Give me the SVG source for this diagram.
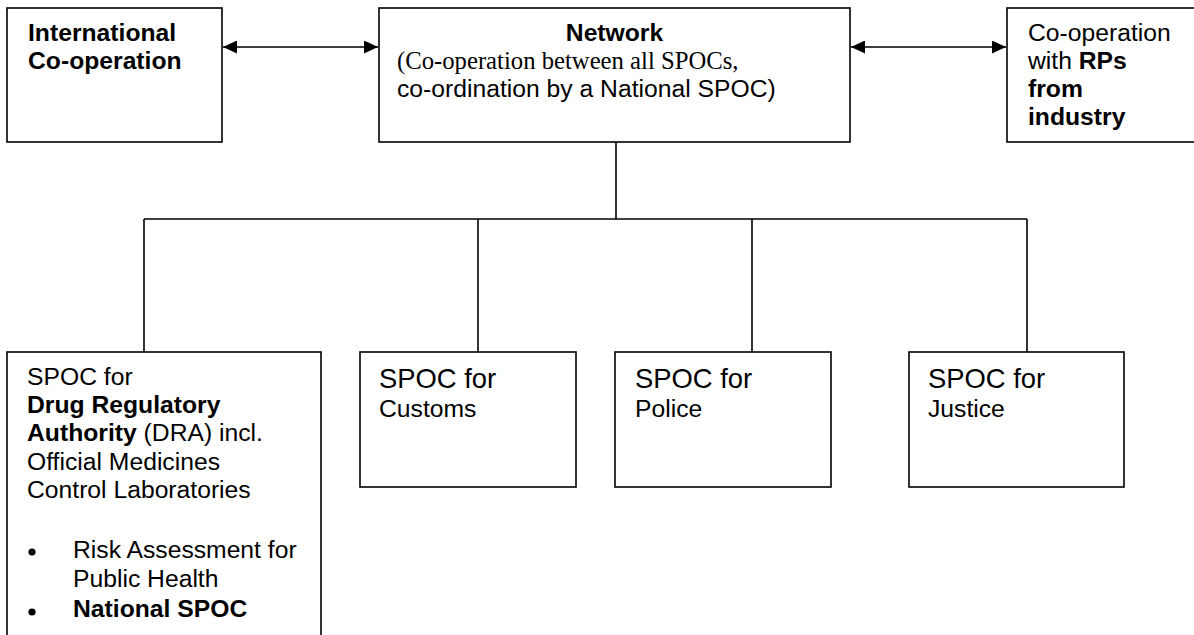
<svg xmlns="http://www.w3.org/2000/svg" width="1194" height="635" viewBox="0 0 1194 635">
<style>
  .box{fill:#fff;stroke:#000;stroke-width:1.6}
  .ln{fill:none;stroke:#000;stroke-width:1.6}
  text{font-family:"Liberation Sans",Arial,sans-serif;font-size:24.7px;fill:#000}
  .b{font-weight:bold}
  .big{font-size:27.4px}
  .serif{font-family:"Liberation Serif","Times New Roman",serif}
</style>
<defs>
  <marker id="ah" markerUnits="userSpaceOnUse" markerWidth="15" markerHeight="13" refX="14" refY="6.5" orient="auto-start-reverse">
    <path d="M0,0 L14,6.5 L0,13 z" fill="#000"/>
  </marker>
</defs>
<g id="connectors">
  <line class="ln" x1="223" y1="47" x2="378" y2="47" marker-start="url(#ah)" marker-end="url(#ah)"/>
  <line class="ln" x1="851" y1="47" x2="1006" y2="47" marker-start="url(#ah)" marker-end="url(#ah)"/>
  <line class="ln" x1="616" y1="142" x2="616" y2="219"/>
  <line class="ln" x1="144" y1="219" x2="1027" y2="219"/>
  <line class="ln" x1="144" y1="219" x2="144" y2="352"/>
  <line class="ln" x1="478" y1="219" x2="478" y2="352"/>
  <line class="ln" x1="752" y1="219" x2="752" y2="352"/>
  <line class="ln" x1="1027" y1="219" x2="1027" y2="352"/>
</g>
<g id="international">
  <rect class="box" x="7" y="8" width="215" height="134"/>
  <text x="28" y="41" class="b">International</text>
  <text x="28" y="69" class="b">Co-operation</text>
</g>
<g id="network">
  <rect class="box" x="379" y="8" width="471" height="134"/>
  <text x="614.5" y="41" class="b" text-anchor="middle">Network</text>
  <text x="397" y="69" class="serif">(Co-operation between all SPOCs,</text>
  <text x="397" y="97">co-ordination by a National SPOC)</text>
</g>
<g id="industry">
  <rect class="box" x="1007" y="8" width="200" height="134"/>
  <text x="1028" y="41">Co-operation</text>
  <text x="1028" y="69">with <tspan class="b">RPs</tspan></text>
  <text x="1028" y="97" class="b">from</text>
  <text x="1028" y="125" class="b">industry</text>
</g>
<g id="dra">
  <rect class="box" x="7" y="352" width="314" height="300"/>
  <text x="27" y="385">SPOC for</text>
  <text x="27" y="413" class="b">Drug Regulatory</text>
  <text x="27" y="441"><tspan class="b">Authority</tspan> (DRA) incl.</text>
  <text x="27" y="470">Official Medicines</text>
  <text x="27" y="498">Control Laboratories</text>
  <circle cx="32" cy="552" r="3.6" fill="#000"/>
  <text x="73" y="558">Risk Assessment for</text>
  <text x="73" y="587">Public Health</text>
  <circle cx="32" cy="612" r="3.6" fill="#000"/>
  <text x="73" y="617" class="b">National SPOC</text>
</g>
<g id="customs">
  <rect class="box" x="360" y="352" width="216" height="135"/>
  <text x="379" y="388" class="big">SPOC for</text>
  <text x="379" y="417">Customs</text>
</g>
<g id="police">
  <rect class="box" x="615" y="352" width="216" height="135"/>
  <text x="635" y="388" class="big">SPOC for</text>
  <text x="635" y="417">Police</text>
</g>
<g id="justice">
  <rect class="box" x="909" y="352" width="215" height="135"/>
  <text x="928" y="388" class="big">SPOC for</text>
  <text x="928" y="417">Justice</text>
</g>
</svg>
